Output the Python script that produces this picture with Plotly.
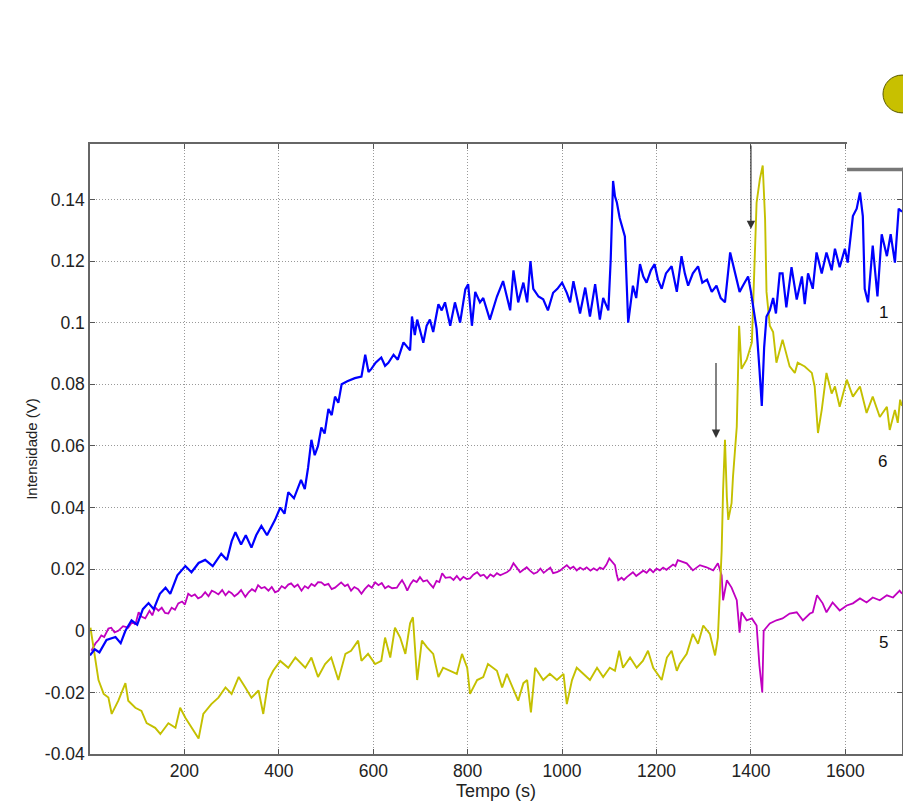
import plotly.graph_objects as go

# ---- Data ----
blue_x = [0, 10, 20, 35, 54, 65, 75, 88, 100, 112, 124, 135, 148, 160, 170, 185, 202, 215, 230, 244,
          260, 278, 290, 300, 308, 320, 330, 342, 352, 363, 375, 392, 403, 412, 420, 432, 447, 455, 462, 469,
          476, 483, 490, 497, 505, 512, 519, 526, 533, 545, 561, 575, 583, 590, 596, 605, 617, 625, 632, 643,
          652, 664, 678, 682, 688, 693, 700, 706, 713, 720, 727, 738, 745, 752, 763, 773, 784, 795, 801, 809,
          816, 826, 833, 847, 855, 862, 875, 882, 890, 897, 907, 918, 926, 933, 939, 950, 960, 970, 981, 990,
          1000, 1010, 1017, 1024, 1030, 1038, 1049, 1059, 1070, 1080, 1087, 1098, 1103, 1108, 1112, 1116, 1122, 1127, 1133, 1137,
          1140, 1145, 1150, 1157, 1165, 1172, 1179, 1188, 1196, 1203, 1211, 1220, 1232, 1243, 1253, 1260, 1267, 1277, 1288, 1297,
          1307, 1317, 1327, 1336, 1345, 1356, 1362, 1369, 1376, 1383, 1394, 1400, 1405, 1412, 1418, 1423, 1428, 1433, 1440, 1447,
          1453, 1461, 1467, 1475, 1486, 1497, 1508, 1514, 1521, 1531, 1539, 1550, 1560, 1571, 1578, 1588, 1599, 1605, 1616, 1624,
          1631, 1637, 1641, 1648, 1658, 1668, 1677, 1688, 1696, 1705, 1713, 1720]
blue_y = [-0.008, -0.006, -0.007, -0.003, -0.002, -0.004, 0.000, 0.0034, 0.002, 0.007, 0.009, 0.007, 0.012, 0.014, 0.012, 0.018, 0.021, 0.019, 0.022, 0.023,
          0.021, 0.025, 0.023, 0.029, 0.032, 0.028, 0.031, 0.027, 0.031, 0.034, 0.031, 0.036, 0.040, 0.038, 0.045, 0.043, 0.049, 0.046, 0.053, 0.062,
          0.057, 0.060, 0.066, 0.064, 0.072, 0.070, 0.076, 0.074, 0.080, 0.081, 0.082, 0.0825, 0.0896, 0.084, 0.085, 0.087, 0.0887, 0.086, 0.087, 0.0896,
          0.088, 0.0936, 0.091, 0.102, 0.096, 0.101, 0.097, 0.0935, 0.099, 0.101, 0.097, 0.106, 0.104, 0.1066, 0.099, 0.1066, 0.100, 0.1108, 0.1125, 0.099,
          0.110, 0.1066, 0.108, 0.101, 0.105, 0.1085, 0.1135, 0.109, 0.104, 0.117, 0.1066, 0.113, 0.1066, 0.120, 0.111, 0.1085, 0.1076, 0.104, 0.1097, 0.111,
          0.113, 0.1097, 0.1066, 0.1135, 0.109, 0.103, 0.1114, 0.102, 0.1125, 0.101, 0.108, 0.104, 0.1206, 0.146, 0.141, 0.139, 0.134, 0.131, 0.128, 0.112,
          0.100, 0.106, 0.112, 0.108, 0.119, 0.115, 0.113, 0.117, 0.119, 0.114, 0.111, 0.116, 0.1183, 0.110, 0.1216, 0.116, 0.112, 0.116, 0.1183, 0.113,
          0.114, 0.110, 0.112, 0.108, 0.1066, 0.1228, 0.119, 0.115, 0.110, 0.112, 0.115, 0.110, 0.105, 0.098, 0.085, 0.073, 0.092, 0.102, 0.104, 0.108,
          0.103, 0.116, 0.116, 0.105, 0.118, 0.1075, 0.115, 0.106, 0.116, 0.111, 0.1228, 0.116, 0.1228, 0.117, 0.124, 0.118, 0.124, 0.1195, 0.1346, 0.137,
          0.1423, 0.1346, 0.111, 0.1066, 0.125, 0.1085, 0.1287, 0.1216, 0.1287, 0.1195, 0.137, 0.136]

mag_x = [3, 12, 18, 24, 30, 39, 45, 52, 60, 70, 81, 90, 96, 103, 110, 117, 126, 132, 138, 145,
         152, 159, 166, 173, 180, 187, 195, 201, 208, 215, 222, 229, 236, 244, 251, 258, 265, 272, 280, 287,
         294, 300, 306, 313, 320, 329, 336, 343, 350, 356, 363, 370, 378, 385, 392, 399, 406, 413, 420, 426,
         433, 440, 448, 455, 462, 469, 476, 483, 490, 497, 505, 512, 519, 526, 532, 540, 546, 553, 560, 568,
         575, 582, 590, 597, 604, 611, 618, 625, 632, 640, 650, 655, 661, 667, 672, 679, 685, 692, 699, 706,
         714, 720, 727, 734, 740, 746, 753, 763, 770, 777, 784, 791, 798, 805, 812, 820, 827, 834, 841, 848,
         855, 862, 869, 876, 883, 890, 897, 904, 911, 918, 925, 932, 940, 947, 954, 961, 968, 975, 981, 989,
         996, 1003, 1010, 1017, 1024, 1031, 1038, 1045, 1052, 1060, 1067, 1074, 1080, 1087, 1094, 1100, 1106, 1112, 1116, 1119,
         1126, 1131, 1137, 1144, 1150, 1157, 1165, 1172, 1179, 1186, 1193, 1200, 1207, 1214, 1221, 1228, 1235, 1240, 1245,
         1264, 1277, 1292, 1306, 1320, 1330, 1338, 1341, 1349, 1359, 1370, 1376, 1380, 1391, 1402,
         1412, 1418, 1424, 1427, 1440, 1454, 1467, 1482, 1497, 1510, 1525, 1531, 1540, 1552, 1560, 1573, 1588, 1603, 1616, 1631,
         1645, 1658, 1673, 1688, 1701, 1715, 1720]
mag_y = [-0.0065, -0.004, -0.003, -0.0015, -0.002, 0.0007, 0.001, -0.0005, 0.0, 0.0015, 0.001, 0.003, 0.002, 0.006, 0.0045, 0.004, 0.0065, 0.005, 0.0076, 0.0065,
         0.0075, 0.0058, 0.0056, 0.0075, 0.0068, 0.0089, 0.0095, 0.0085, 0.012, 0.0112, 0.0118, 0.0105, 0.011, 0.0125, 0.0112, 0.013, 0.0125, 0.0118, 0.0132, 0.0115,
         0.0128, 0.0122, 0.0112, 0.012, 0.0132, 0.011, 0.0125, 0.0135, 0.0128, 0.0148, 0.0138, 0.0142, 0.013, 0.0142, 0.0125, 0.013, 0.0145, 0.0138, 0.015, 0.0154,
         0.0142, 0.015, 0.013, 0.0145, 0.0138, 0.0152, 0.0145, 0.0158, 0.0157, 0.0148, 0.0152, 0.0135, 0.014, 0.015, 0.0157, 0.0145, 0.015, 0.013, 0.0142, 0.0135,
         0.012, 0.0135, 0.0148, 0.014, 0.0157, 0.0148, 0.0155, 0.0138, 0.0145, 0.0138, 0.014, 0.0152, 0.0164, 0.0148, 0.013, 0.0152, 0.0164, 0.0158, 0.0174, 0.016,
         0.0164, 0.0152, 0.014, 0.0162, 0.0158, 0.0187, 0.0172, 0.0174, 0.0165, 0.0178, 0.0164, 0.0175, 0.0168, 0.017, 0.0182, 0.019, 0.0178, 0.0182, 0.017, 0.0183,
         0.0176, 0.0187, 0.018, 0.0185, 0.019, 0.0198, 0.0219, 0.0205, 0.019, 0.0198, 0.0206, 0.0195, 0.0185, 0.019, 0.0202, 0.0188, 0.0196, 0.0205, 0.0187, 0.019,
         0.0196, 0.0205, 0.0213, 0.0202, 0.0208, 0.0196, 0.0205, 0.0198, 0.0206, 0.0195, 0.0203, 0.0196, 0.0205, 0.020, 0.0215, 0.0235, 0.0225, 0.0213, 0.018, 0.0164,
         0.0172, 0.0165, 0.0174, 0.0182, 0.019, 0.0178, 0.0187, 0.0195, 0.0188, 0.020, 0.019, 0.0202, 0.0196, 0.0205, 0.0198, 0.0206, 0.0215, 0.021, 0.0229,
         0.0219, 0.0196, 0.0213, 0.0206, 0.0196, 0.0219, 0.018, 0.0099, 0.0164, 0.014, 0.0099, -0.0006, 0.006, 0.0034, 0.004,
         0.0017, -0.0113, -0.020, 0.0, 0.0024, 0.0034, 0.004, 0.0056, 0.006, 0.0034, 0.0056, 0.006, 0.0115, 0.0089, 0.006, 0.0092, 0.0066, 0.0082, 0.0089, 0.0105,
         0.0092, 0.0108, 0.0099, 0.0115, 0.0108, 0.013, 0.012]

yel_x = [1, 8, 18, 29, 39, 46, 60, 75, 81, 96, 109, 120, 138, 149, 166, 181, 191, 202, 215, 230,
         240, 257, 272, 287, 300, 315, 329, 342, 357, 367, 378, 388, 403, 420, 435, 456, 469, 483, 498, 511,
         526, 541, 553, 568, 575, 589, 604, 617, 625, 636, 646, 657, 668, 678, 684, 693, 703, 714, 727, 738,
         748, 763, 777, 788, 799, 805, 820, 833, 843, 862, 873, 883, 897, 907, 918, 926, 934, 943, 960, 974,
         989, 1003, 1010, 1021, 1031, 1045, 1059, 1074, 1087, 1101, 1112, 1121, 1129, 1144, 1158, 1171, 1182, 1193, 1211, 1222,
         1232, 1243, 1249, 1264, 1277, 1288, 1299, 1313, 1324, 1330, 1334, 1338, 1341, 1345, 1349, 1352, 1359, 1362, 1370, 1373,
         1375, 1380, 1391, 1402, 1412, 1419, 1425, 1430, 1433, 1440, 1447, 1454, 1461, 1467, 1482, 1493, 1499, 1514, 1529, 1535,
         1542, 1550, 1560, 1571, 1578, 1588, 1603, 1616, 1631, 1645, 1658, 1673, 1688, 1694, 1705, 1711, 1716, 1720]
yel_y = [0.001, -0.0065, -0.016, -0.0205, -0.0217, -0.027, -0.0227, -0.017, -0.0227, -0.025, -0.026, -0.030, -0.0315, -0.0335, -0.030, -0.0315, -0.025, -0.0282, -0.0315, -0.035,
         -0.027, -0.0238, -0.0217, -0.0184, -0.0205, -0.015, -0.0184, -0.0217, -0.0194, -0.027, -0.016, -0.013, -0.0098, -0.012, -0.0087, -0.012, -0.0087, -0.015, -0.0108, -0.0087,
         -0.016, -0.0075, -0.0065, -0.0032, -0.0098, -0.0075, -0.0108, -0.0098, -0.0022, -0.0087, 0.001, -0.0022, -0.0075, 0.0024, 0.0044, -0.016, -0.0032, -0.0054, -0.0075, -0.015,
         -0.012, -0.013, -0.014, -0.0075, -0.012, -0.0205, -0.016, -0.015, -0.0108, -0.013, -0.0184, -0.014, -0.0194, -0.0227, -0.017, -0.016, -0.0265, -0.012, -0.016, -0.014,
         -0.016, -0.014, -0.0238, -0.016, -0.012, -0.014, -0.016, -0.012, -0.015, -0.012, -0.013, -0.0065, -0.012, -0.0087, -0.012, -0.0098, -0.0065, -0.012, -0.016, -0.0087,
         -0.0065, -0.013, -0.0108, -0.0075, -0.001, -0.0042, 0.0017, -0.001, -0.008, -0.0022, 0.0099, 0.026, 0.0456, 0.062, 0.0434, 0.036, 0.0414, 0.050, 0.0662, 0.087,
         0.099, 0.085, 0.088, 0.0936, 0.139, 0.1467, 0.151, 0.1336, 0.110, 0.099, 0.097, 0.087, 0.091, 0.0945, 0.0858, 0.0837, 0.087, 0.0858, 0.0837, 0.0793,
         0.0642, 0.0717, 0.0837, 0.077, 0.0793, 0.0727, 0.0815, 0.076, 0.0793, 0.0707, 0.076, 0.0694, 0.0727, 0.0652, 0.0717, 0.0675, 0.075, 0.073]

x_ticks = [200, 400, 600, 800, 1000, 1200, 1400, 1600]
x_tick_labels = ["200", "400", "600", "800", "1000", "1200", "1400", "1600"]
y_ticks = [-0.04, -0.02, 0, 0.02, 0.04, 0.06, 0.08, 0.1, 0.12, 0.14]
y_tick_labels = ["-0.04", "-0.02", "0", "0.02", "0.04", "0.06", "0.08", "0.1", "0.12", "0.14"]

# curve labels and arrows (data coordinates)
curve_labels = ["1", "6", "5"]
curve_label_x = [1681, 1679, 1681]
curve_label_y = [0.1034, 0.0548, -0.0038]
arrow_x = [1400, 1326]
arrow_tip_y = [0.1304, 0.0626]
arrow_tail_y = [0.158, 0.0874]

FONT = "Liberation Sans, Arial, sans-serif"

fig = go.Figure()
fig.add_trace(go.Scatter(x=mag_x, y=mag_y, mode="lines", line=dict(color="#C000C0", width=1.8)))
fig.add_trace(go.Scatter(x=yel_x, y=yel_y, mode="lines", line=dict(color="#C4C000", width=1.9)))
fig.add_trace(go.Scatter(x=blue_x, y=blue_y, mode="lines", line=dict(color="#0000FF", width=2.2)))

for t, xv, yv in zip(curve_labels, curve_label_x, curve_label_y):
    fig.add_annotation(x=xv, y=yv, text=t, showarrow=False,
                       font=dict(family=FONT, size=17, color="#111"))

for xv, ty, sy in zip(arrow_x, arrow_tip_y, arrow_tail_y):
    fig.add_annotation(x=xv, y=ty, ax=xv, ay=sy, axref="x", ayref="y", text="",
                       showarrow=True, arrowhead=2, arrowsize=1.4, arrowwidth=1.2,
                       arrowcolor="#333")

axis_common = dict(
    showline=True, linecolor="#666", linewidth=1.5, mirror="ticks",
    ticks="inside", ticklen=5, tickcolor="#555", tickwidth=1,
    showgrid=True, gridcolor="#999", griddash="1px,2px", gridwidth=1,
    zeroline=False, tickfont=dict(family=FONT, size=17.5, color="#222"),
)

fig.update_xaxes(range=[0, 1720], tickvals=x_ticks, ticktext=x_tick_labels,
                 title=dict(text="Tempo (s)", standoff=2, font=dict(family=FONT, size=18, color="#222")),
                 **axis_common)
fig.update_yaxes(range=[-0.04, 0.158], tickvals=y_ticks, ticktext=y_tick_labels,
                 title=dict(text="Intensidade (V)", standoff=4, font=dict(family=FONT, size=15, color="#222")),
                 **axis_common)

# overlay pieces at the top-right corner of the original figure
fig.add_shape(type="rect", xref="paper", yref="paper", x0=0.9323, x1=1.02, y0=0.961, y1=1.02,
              fillcolor="white", line=dict(width=0), layer="above")
fig.add_shape(type="line", xref="paper", yref="paper", x0=0.9323, x1=1.02, y0=0.958, y1=0.958,
              line=dict(color="#777", width=3.5), layer="above")
fig.add_shape(type="circle", xref="paper", yref="paper", x0=0.9766, x1=1.0234, y0=1.051, y1=1.113,
              fillcolor="#C8C000", line=dict(color="#5a5a00", width=1), layer="above")

fig.update_layout(
    width=903, height=803,
    margin=dict(l=90, r=1, t=144, b=49, autoexpand=False),
    plot_bgcolor="white", paper_bgcolor="white",
    showlegend=False,
)

fig.write_html("out.html", config={"displayModeBar": False},
               post_script="document.body.style.margin='0';document.body.style.overflow='hidden';")
